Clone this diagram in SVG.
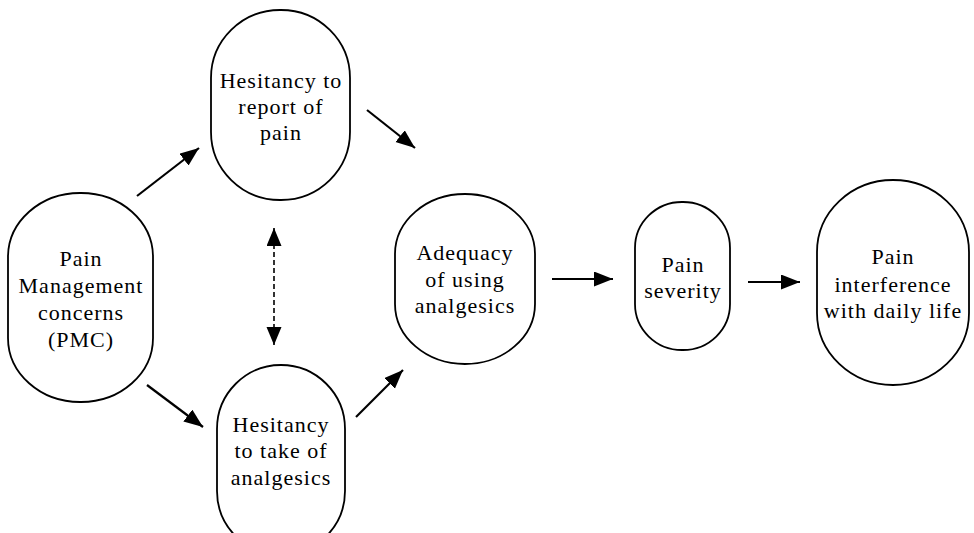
<svg xmlns="http://www.w3.org/2000/svg" width="974" height="533" viewBox="0 0 974 533">
  <style>
    .node { fill: #ffffff; stroke: #000000; stroke-width: 1.8; }
    .label { font-family: "Liberation Serif", "Times New Roman", serif; font-size: 22px; letter-spacing: 1px; fill: #000000; text-anchor: middle; }
    .edge { stroke: #000000; stroke-width: 2.2; fill: none; }
    .dashed { stroke: #000000; stroke-width: 1.6; fill: none; stroke-dasharray: 5 3; }
  </style>
  <defs>
    <marker id="arrow" markerUnits="userSpaceOnUse" markerWidth="20" markerHeight="16" refX="19" refY="7.5" orient="auto">
      <path d="M0,0 L19,7.5 L0,15 z" fill="#000000"/>
    </marker>
    <marker id="arrowBoth" markerUnits="userSpaceOnUse" markerWidth="20" markerHeight="16" refX="18" refY="7.5" orient="auto-start-reverse">
      <path d="M0,0 L18,7.5 L0,15 z" fill="#000000"/>
    </marker>
  </defs>
  <rect x="0" y="0" width="974" height="533" fill="#ffffff"/>

  <g id="node-pmc">
    <rect class="node" x="8" y="193" width="145" height="209" rx="72" ry="64"/>
    <text class="label" x="81" y="266">Pain</text>
    <text class="label" x="81" y="293">Management</text>
    <text class="label" x="81" y="320">concerns</text>
    <text class="label" x="81" y="347">(PMC)</text>
  </g>

  <g id="node-hesitancy-report">
    <rect class="node" x="211" y="10" width="139" height="190" rx="69" ry="68"/>
    <text class="label" x="281" y="88">Hesitancy to</text>
    <text class="label" x="281" y="114">report of</text>
    <text class="label" x="281" y="140">pain</text>
  </g>

  <g id="node-hesitancy-take">
    <rect class="node" x="217" y="365" width="128" height="190" rx="64" ry="64"/>
    <text class="label" x="281" y="432">Hesitancy</text>
    <text class="label" x="281" y="458">to take of</text>
    <text class="label" x="281" y="485">analgesics</text>
  </g>

  <g id="node-adequacy">
    <rect class="node" x="395" y="194" width="140" height="170" rx="70" ry="60"/>
    <text class="label" x="465" y="260">Adequacy</text>
    <text class="label" x="465" y="287">of using</text>
    <text class="label" x="465" y="313">analgesics</text>
  </g>

  <g id="node-severity">
    <rect class="node" x="635" y="202" width="95" height="148" rx="47" ry="46"/>
    <text class="label" x="683" y="272">Pain</text>
    <text class="label" x="683" y="298">severity</text>
  </g>

  <g id="node-interference">
    <rect class="node" x="817" y="180" width="152" height="205" rx="76" ry="72"/>
    <text class="label" x="893" y="264">Pain</text>
    <text class="label" x="893" y="292">interference</text>
    <text class="label" x="893" y="318">with daily life</text>
  </g>

  <g id="connectors">
    <line class="edge" x1="137" y1="196" x2="199" y2="148" marker-end="url(#arrow)"/>
    <line class="edge" x1="367" y1="110" x2="415" y2="148" marker-end="url(#arrow)"/>
    <line class="edge" x1="147" y1="385" x2="203" y2="427" marker-end="url(#arrow)"/>
    <line class="edge" x1="356" y1="417" x2="403" y2="370" marker-end="url(#arrow)"/>
    <line class="edge" x1="552" y1="279" x2="613" y2="279" marker-end="url(#arrow)"/>
    <line class="edge" x1="748" y1="282" x2="800" y2="282" marker-end="url(#arrow)"/>
    <line class="dashed" x1="274" y1="228" x2="274" y2="345" marker-start="url(#arrowBoth)" marker-end="url(#arrowBoth)"/>
  </g>
</svg>
